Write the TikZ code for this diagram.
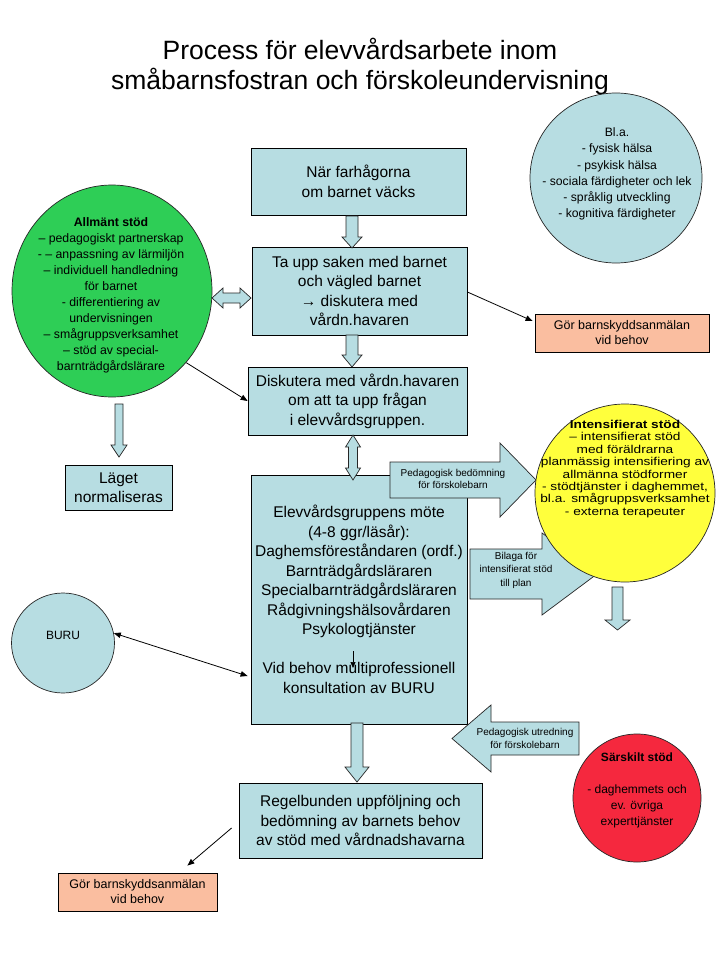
\documentclass[tikz,border=0pt]{standalone}
\usepackage{fontspec}
\setmainfont{Liberation Sans}
\newfontfamily\widesans[FakeStretch=1.2]{Liberation Sans}
\usetikzlibrary{arrows.meta,calc,shapes.geometric}
\definecolor{boxblue}{RGB}{183,221,226}
\definecolor{orangebox}{RGB}{250,190,160}
\definecolor{greenc}{RGB}{46,206,86}
\definecolor{yellowc}{RGB}{255,255,60}
\definecolor{redc}{RGB}{245,40,62}
\begin{document}
\begin{tikzpicture}[x=1pt,y=-1pt,
  box/.style={draw=black,line width=0.8pt,fill=boxblue,align=center,inner sep=0pt,font=\fontsize{15.5}{19.5}\selectfont},
  obox/.style={draw=black,line width=0.8pt,fill=orangebox,align=center,inner sep=0pt,font=\fontsize{12.5}{15}\selectfont},
  blob/.style={draw=black!85,line width=0.7pt,ellipse,inner sep=0pt},
  txt/.style={align=center,inner sep=0pt},
  barrow/.style={draw=black!85,line width=0.7pt,fill=boxblue,line join=miter},
  ln/.style={draw=black,line width=0.8pt,-{Triangle[length=7pt,width=5.5pt]}},
  lnn/.style={draw=black,line width=0.8pt,{Triangle[length=7pt,width=5.5pt]}-{Triangle[length=7pt,width=5.5pt]}}
  ]
\fill[white] (0,0) rectangle (720,960);
\useasboundingbox (0,0) rectangle (720,960);

% title
\node[txt,font=\fontsize{26.5}{30}\selectfont] (title) at (360,67)
  {Process för elevvårdsarbete inom\\småbarnsfostran och förskoleundervisning};

% main boxes
\node[box,minimum width=215pt,minimum height=67pt] (b1) at (358.5,181.5) {När farhågorna\\om barnet väcks};
\node[box,minimum width=215pt,minimum height=88pt] (b2) at (359.5,291) {Ta upp saken med barnet\\och vägled barnet\\→ diskutera med\\vårdn.havaren};
\node[box,minimum width=219pt,minimum height=68pt] (b3) at (357.5,401) {Diskutera med vårdn.havaren\\om att ta upp frågan\\i elevvårdsgruppen.};
\node[box,minimum width=216pt,minimum height=249pt] (b4) at (359,599.5) {Elevvårdsgruppens möte\\(4-8 ggr/läsår):\\Daghemsföreståndaren (ordf.)\\Barnträdgårdsläraren\\Specialbarnträdgårdsläraren\\Rådgivningshälsovårdaren\\Psykologtjänster\\[19.5pt]Vid behov multiprofessionell\\konsultation av BURU};
\node[box,minimum width=243pt,minimum height=75pt] (b5) at (360.5,820.5) {Regelbunden uppföljning och\\bedömning av barnets behov\\av stöd med vårdnadshavarna};
\node[box,minimum width=107pt,minimum height=45pt] (lag) at (118.5,487.5) {Läget\\normaliseras};
\node[obox,minimum width=174pt,minimum height=38pt] (o1) at (622,333) {Gör barnskyddsanmälan\\vid behov};
\node[obox,minimum width=159pt,minimum height=38pt] (o2) at (137.5,892) {Gör barnskyddsanmälan\\vid behov};

% circles
\node[blob,fill=boxblue,minimum width=172pt,minimum height=170pt] (bla) at (616,178) {};
\node[txt,font=\fontsize{12.2}{16.2}\selectfont] (blatxt) at (617,174) {Bl.a.\\- fysisk hälsa\\- psykisk hälsa\\- sociala färdigheter och lek\\- språklig utveckling\\- kognitiva färdigheter};

\node[blob,fill=greenc,minimum width=200pt,minimum height=212pt] (allm) at (112,291) {};
\node[txt,font=\fontsize{12.3}{16}\selectfont] (allmtxt) at (111,295) {\textbf{Allmänt stöd}\\– pedagogiskt partnerskap\\- – anpassning av lärmiljön\\– individuell handledning\\för barnet\\- differentiering av\\undervisningen\\– smågruppsverksamhet\\– stöd av special-\\barnträdgårdslärare};

\node[blob,fill=boxblue,minimum width=103pt,minimum height=100pt] (buru) at (63,643) {};
\node[txt,font=\fontsize{12}{14}\selectfont] (burutxt) at (63,635) {BURU};

% block arrows (vertical)
\draw[barrow] (346,216) -- (358,216) -- (358,237) -- (362,237) -- (352,248) -- (342,237) -- (346,237) -- cycle;
\draw[barrow] (346,335) -- (358,335) -- (358,355) -- (362,355) -- (352,367) -- (342,355) -- (346,355) -- cycle;
\draw[barrow] (353,435) -- (360.5,447) -- (357.5,447) -- (357.5,468) -- (360.5,468) -- (353,480) -- (345.5,468) -- (348.5,468) -- (348.5,447) -- (345.5,447) -- cycle;
\draw[barrow] (351,723) -- (363,723) -- (363,767) -- (369,767) -- (357,782) -- (345,767) -- (351,767) -- cycle;
\draw[barrow] (212,298) -- (223,288) -- (223,293) -- (240,293) -- (240,288) -- (251,298) -- (240,308) -- (240,303) -- (223,303) -- (223,308) -- cycle;
\draw[barrow] (115,404) -- (123,404) -- (123,445) -- (127,445) -- (119,457) -- (111,445) -- (115,445) -- cycle;
\draw[barrow] (612,587) -- (623,587) -- (623,620) -- (630,620) -- (617.5,630) -- (605,620) -- (612,620) -- cycle;

% labelled block arrows
\draw[barrow] (470,549) -- (542,549) -- (542,533) -- (597,574) -- (542,615) -- (542,599) -- (470,599) -- cycle;
\node[txt,font=\fontsize{10}{13.5}\selectfont] (bilaga) at (516,570) {Bilaga för\\intensifierat stöd\\till plan};
\draw[barrow] (390,462) -- (500,462) -- (500,443) -- (536,480) -- (500,517) -- (500,498) -- (390,498) -- cycle;
\node[txt,font=\fontsize{10}{12.5}\selectfont] (pedbed) at (453,479) {Pedagogisk bedömning\\för förskolebarn};
\draw[barrow] (579,722) -- (491,722) -- (491,705) -- (452,738.5) -- (491,772) -- (491,755) -- (579,755) -- cycle;
\node[txt,font=\fontsize{10}{13}\selectfont] (pedutr) at (525,738.5) {Pedagogisk utredning\\för förskolebarn};

\node[blob,fill=yellowc,minimum width=180pt,minimum height=178pt] (int) at (625,493) {};
\node[txt,font=\widesans\fontsize{11.4}{12.4}\selectfont] (inttxt) at (625,469) {\textbf{Intensifierat stöd}\\– intensifierat stöd\\med föräldrarna\\planmässig intensifiering av\\allmänna stödformer\\- stödtjänster i daghemmet,\\bl.a. smågruppsverksamhet\\- externa terapeuter};

\node[blob,fill=redc,minimum width=128pt,minimum height=128pt] (sar) at (637,798) {};
\node[txt,font=\fontsize{12}{16}\selectfont] (sartxt) at (637,790) {\textbf{Särskilt stöd}\\[16pt]- daghemmets och\\ev. övriga\\experttjänster};

% line connectors
\draw[ln] ($(b2.east)+(0,1)$) -- ($(o1.west)+(-2,-12)$);
\draw[ln] (allm.-44) -- (b3.west);
\draw[lnn] (buru.11) -- ($(b4.west)+(-3,76.5)$);
\draw[ln] ($(b5.west)+(-7,7.5)$) -- ($(o2.north east)+(-30,-7)$);
\coordinate (tk1) at (353,651);
\coordinate (tk2) at (353,668);
\draw[draw=black,line width=0.7pt,-{Triangle[length=6pt,width=5pt]}] (tk1) -- (tk2);
\end{tikzpicture}
\end{document}
